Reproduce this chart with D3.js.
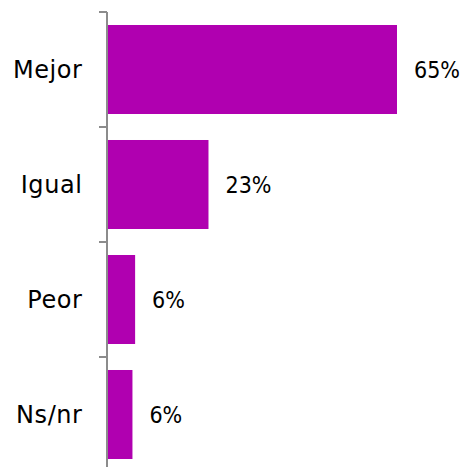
<!DOCTYPE html>
<html><head><meta charset="utf-8">
<script src="https://cdn.jsdelivr.net/npm/d3@7"></script>
<style>
html,body{margin:0;padding:0;background:#fff;}
svg{display:block;}
text.val{font-family:"DejaVu Sans Condensed","DejaVu Sans",sans-serif;font-stretch:condensed;}
text.cat{font-family:"DejaVu Sans",sans-serif;letter-spacing:0.6px;}
</style></head>
<body>
<svg id="chart" width="462" height="467"></svg>
<script>
const categories = ["Mejor", "Igual", "Peor", "Ns/nr"];
const values = [65, 22.6, 6.1, 5.5];
const valueLabels = ["65%", "23%", "6%", "6%"];

const svg = d3.select("#chart");
const x = d3.scaleLinear().domain([0, 65]).range([108, 397]);
const y = d3.scaleBand().domain(categories).range([12, 472]).paddingInner(0.226).paddingOuter(0.113);

svg.selectAll("rect.bar").data(categories).join("rect")
  .attr("class","bar")
  .attr("x", x(0))
  .attr("y", d => y(d))
  .attr("width", (d,i) => x(values[i]) - x(0))
  .attr("height", y.bandwidth())
  .attr("fill", "#b000b0");

svg.selectAll("text.val").data(categories).join("text")
  .attr("class","val")
  .attr("x", (d,i) => x(values[i]) + 17)
  .attr("y", d => y(d) + y.bandwidth()/2)
  .attr("dy", "0.36em")
  .attr("font-size", 23)
  .attr("fill", "#000")
  .text((d,i) => valueLabels[i]);

// axis
const axisG = svg.append("g");
const step = y.step();
const tickYs = categories.map(c => y(c) - y.paddingOuter() * step);
axisG.append("line").attr("x1", 107).attr("x2", 107).attr("y1", 12).attr("y2", 467)
  .attr("stroke", "#8c8c8c").attr("stroke-width", 2);
axisG.selectAll("line.tick").data(tickYs).join("line").attr("class","tick")
  .attr("x1", 99).attr("x2", 107).attr("y1", d => d).attr("y2", d => d)
  .attr("stroke", "#8c8c8c").attr("stroke-width", 2);

svg.selectAll("text.cat").data(categories).join("text")
  .attr("class","cat")
  .attr("x", 82.6)
  .attr("y", d => y(d) + y.bandwidth()/2)
  .attr("dy", "0.36em")
  .attr("text-anchor", "end")
  .attr("font-size", 24)
  .attr("fill", "#000")
  .text(d => d);
</script>
</body></html>
